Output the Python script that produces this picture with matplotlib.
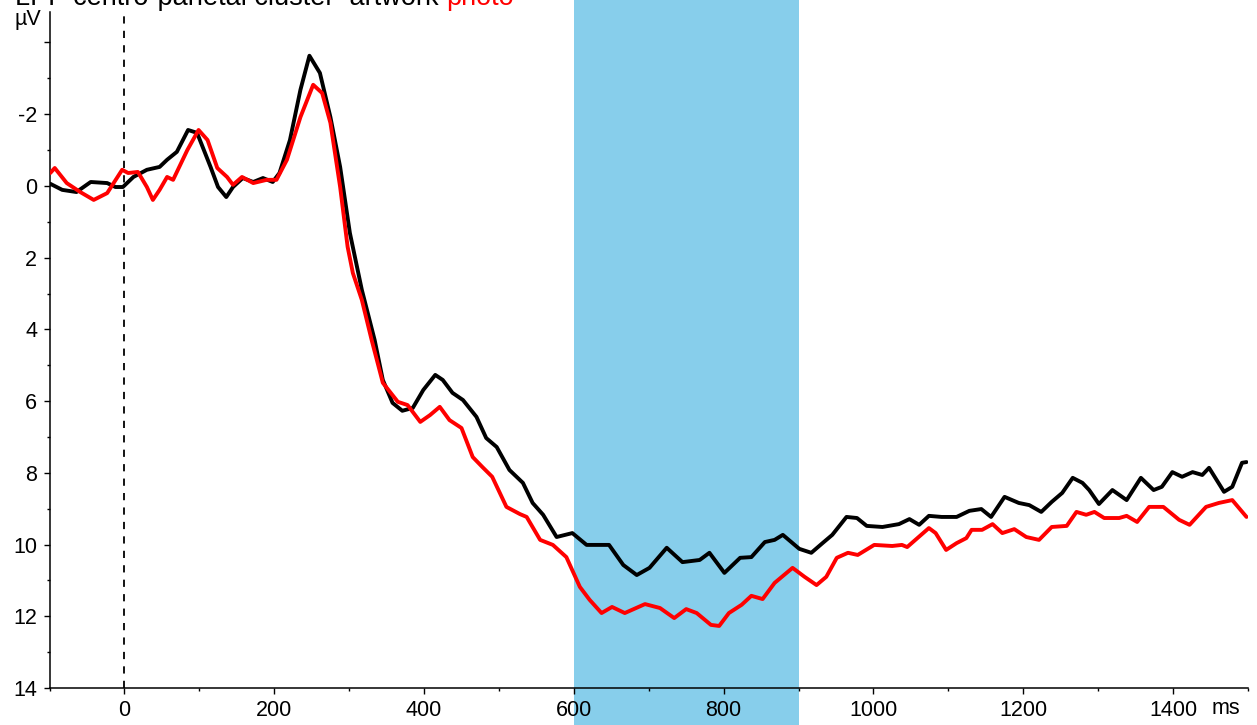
import matplotlib
matplotlib.use("Agg")
import matplotlib.pyplot as plt
from matplotlib.ticker import FixedLocator

plt.rcParams['font.family'] = ['Liberation Sans', 'DejaVu Sans']

# time (ms) and amplitude (µV) – black condition ("artwork")
art_t = [-99, -83, -64, -45, -23, -12, -2, 12, 30, 47, 57, 70, 85, 97, 115, 125, 136, 145, 158, 172,
         185, 198, 207, 221, 235, 247, 261, 275, 288, 301, 317, 334, 345, 358, 371, 385, 399, 415, 425, 438,
         452, 470, 483, 497, 514, 532, 545, 559, 577, 598, 617, 647, 666, 684, 701, 724, 745, 768, 781, 801,
         822, 837, 855, 868, 879, 901, 917, 932, 945, 964, 978, 991, 1012, 1034, 1048, 1061, 1074, 1091, 1111, 1128,
         1144, 1157, 1175, 1194, 1208, 1224, 1238, 1252, 1266, 1279, 1288, 1301, 1319, 1338, 1357, 1374, 1385, 1399, 1412, 1426,
         1439, 1448, 1468, 1479, 1492, 1498]
art_v = [-0.06, 0.11, 0.17, -0.11, -0.08, 0.03, 0.03, -0.25, -0.45, -0.53, -0.73, -0.95, -1.56, -1.48, -0.53, 0.03, 0.31, 0.03, -0.22, -0.11,
         -0.22, -0.11, -0.36, -1.28, -2.68, -3.63, -3.15, -1.92, -0.53, 1.31, 2.90, 4.29, 5.41, 6.05, 6.27, 6.19, 5.69, 5.27, 5.41, 5.77,
         5.97, 6.44, 7.03, 7.28, 7.92, 8.28, 8.84, 9.17, 9.79, 9.68, 10.01, 10.01, 10.57, 10.85, 10.65, 10.09, 10.49, 10.43, 10.23, 10.79,
         10.37, 10.35, 9.93, 9.87, 9.73, 10.12, 10.23, 9.96, 9.73, 9.23, 9.26, 9.48, 9.51, 9.43, 9.29, 9.45, 9.20, 9.23, 9.23, 9.06,
         9.01, 9.23, 8.67, 8.84, 8.90, 9.09, 8.81, 8.56, 8.14, 8.28, 8.48, 8.87, 8.48, 8.76, 8.14, 8.48, 8.39, 7.98, 8.11, 7.98,
         8.06, 7.86, 8.53, 8.39, 7.72, 7.70]

# red condition ("photo")
pho_t = [-99, -93, -77, -59, -41, -23, -3, 5, 18, 30, 38, 47, 57, 65, 84, 99, 111, 124, 137, 145,
         157, 172, 190, 203, 217, 235, 252, 264, 275, 288, 298, 305, 317, 330, 345, 365, 378, 395, 408, 421,
         434, 450, 465, 478, 491, 510, 528, 537, 555, 572, 590, 608, 621, 637, 651, 668, 695, 715, 734, 750,
         764, 783, 794, 807, 824, 837, 852, 868, 892, 908, 924, 937, 951, 966, 979, 1001, 1025, 1038, 1045, 1074,
         1083, 1097, 1111, 1124, 1131, 1145, 1159, 1172, 1188, 1204, 1221, 1238, 1258, 1271, 1284, 1295, 1308, 1328, 1338, 1352,
         1368, 1387, 1408, 1422, 1444, 1461, 1479, 1498]
pho_v = [-0.36, -0.50, -0.08, 0.17, 0.39, 0.20, -0.45, -0.36, -0.39, 0.03, 0.39, 0.11, -0.25, -0.17, -1.00, -1.56, -1.28, -0.50, -0.25, -0.03,
         -0.25, -0.08, -0.17, -0.17, -0.73, -1.92, -2.82, -2.59, -1.76, 0.03, 1.70, 2.43, 3.18, 4.29, 5.49, 6.02, 6.11, 6.58, 6.39, 6.16,
         6.53, 6.75, 7.56, 7.84, 8.11, 8.95, 9.15, 9.23, 9.87, 10.01, 10.35, 11.18, 11.54, 11.91, 11.74, 11.91, 11.66, 11.77, 12.05, 11.80,
         11.91, 12.24, 12.27, 11.91, 11.68, 11.43, 11.52, 11.07, 10.65, 10.90, 11.13, 10.90, 10.37, 10.23, 10.29, 10.01, 10.04, 10.01, 10.07, 9.54,
         9.68, 10.15, 9.96, 9.82, 9.59, 9.59, 9.43, 9.68, 9.57, 9.79, 9.87, 9.51, 9.48, 9.09, 9.17, 9.09, 9.26, 9.26, 9.20, 9.37,
         8.95, 8.95, 9.31, 9.45, 8.95, 8.84, 8.76, 9.23]

window = [600, 900]
x_ticks = [0, 200, 400, 600, 800, 1000, 1200, 1400]
x_minor = [-100, 100, 300, 500, 700, 900, 1100, 1300, 1500]
y_ticks = [-4, -2, 0, 2, 4, 6, 8, 10, 12, 14]
y_labels = ['', '-2', '0', '2', '4', '6', '8', '10', '12', '14']
y_minor = [-3, -1, 1, 3, 5, 7, 9, 11, 13]

W, H = 1257, 725
ax_left, ax_right, ax_top, ax_bottom = 49.5, 1248, 12, 688
fig = plt.figure(figsize=(W / 100, H / 100), dpi=100)
ax = fig.add_axes([ax_left / W, (H - ax_bottom) / H, (ax_right - ax_left) / W, (ax_bottom - ax_top) / H])

ax.set_xlim(-100, 1500)
ax.set_ylim(14, -4.85)

# analysis window band spanning the full figure height
axh = ax_bottom - ax_top
ax.axvspan(window[0], window[1], ymin=-(H - ax_bottom) / axh, ymax=1 + ax_top / axh,
           color='#87CEEB', zorder=0, clip_on=False, lw=0)

ax.axvline(0, color='black', lw=1.3, ls=(0, (4, 4)), zorder=1)

ax.plot(art_t, art_v, color='black', lw=2.8, solid_joinstyle='round', solid_capstyle='round', zorder=3)
ax.plot(pho_t, pho_v, color='#FF0000', lw=2.8, solid_joinstyle='round', solid_capstyle='round', zorder=4)

for s in ['top', 'right']:
    ax.spines[s].set_visible(False)
for s in ['left', 'bottom']:
    ax.spines[s].set_linewidth(1.1)

ax.set_xticks(x_ticks)
ax.set_xticklabels([str(v) for v in x_ticks])
ax.xaxis.set_minor_locator(FixedLocator(x_minor))
ax.set_yticks(y_ticks)
ax.set_yticklabels(y_labels)
ax.yaxis.set_minor_locator(FixedLocator(y_minor))
ax.tick_params(axis='both', which='major', direction='out', length=4, width=1.0,
               labelsize=15.5, pad=5)
ax.tick_params(axis='both', which='minor', direction='out', length=2.5, width=1.0)

fig.text(1212 / W, 1 - 708 / H, 'ms', fontsize=15.5, ha='left', va='center')
fig.text(14 / W, 1 - 20 / H, 'µV', fontsize=15.5, ha='left', va='center')

# title, partly cut off at the top edge as in the reference
t1 = fig.text(15 / W, 1 - 5 / H, 'LPP centro-parietal cluster  artwork ', fontsize=19.5,
              ha='left', va='baseline', color='black')
fig.canvas.draw()
bb = t1.get_window_extent()
fig.text(bb.x1 / W, 1 - 5 / H, 'photo', fontsize=19.5, ha='left', va='baseline', color='#FF0000')

fig.savefig('out.png', dpi=100)
